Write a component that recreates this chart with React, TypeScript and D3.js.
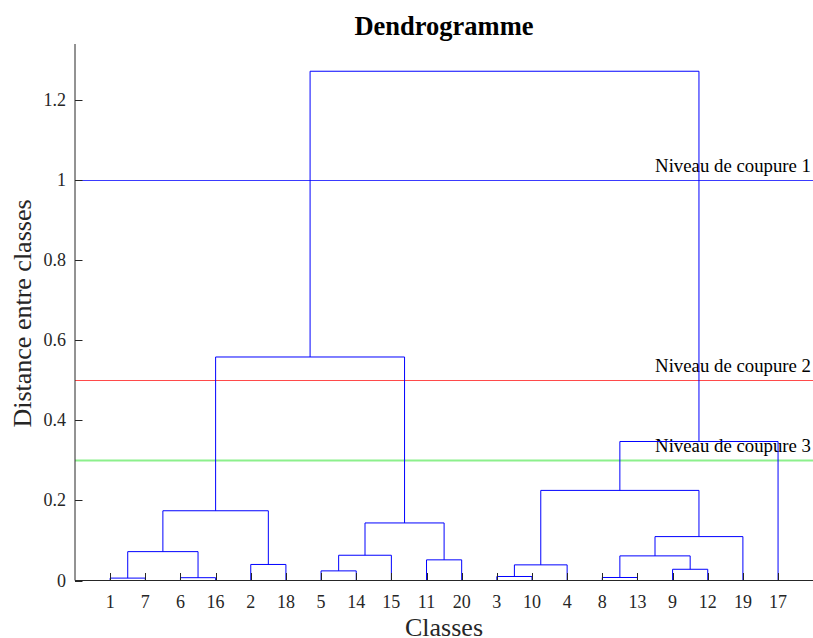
import React from "react";
import * as d3 from "d3";

// Leaf order along the x axis
const leafOrder = [1, 7, 6, 16, 2, 18, 5, 14, 15, 11, 20, 3, 10, 4, 8, 13, 9, 12, 19, 17];

// Linkage (MATLAB style): row i creates cluster 21 + i
const mergeLeft = [1, 6, 8, 3, 5, 9, 24, 2, 11, 23, 25, 21, 30, 31, 32, 27, 36, 35, 38];
const mergeRight = [7, 16, 13, 10, 14, 12, 4, 18, 20, 26, 15, 22, 19, 29, 28, 33, 17, 34, 37];
const mergeHeight = [0.006, 0.007, 0.0075, 0.01, 0.024, 0.028, 0.039, 0.04, 0.0515, 0.0614, 0.063, 0.072, 0.1095, 0.1436, 0.174, 0.2248, 0.3468, 0.5576, 1.2705];

// Cut levels
const cutValues = [1, 0.5, 0.3];
const cutLabels = ["Niveau de coupure 1", "Niveau de coupure 2", "Niveau de coupure 3"];

const yTicks = [0, 0.2, 0.4, 0.6, 0.8, 1, 1.2];
const yTickLabels = ["0", "0.2", "0.4", "0.6", "0.8", "1", "1.2"];

const title = "Dendrogramme";
const xLabel = "Classes";
const yLabel = "Distance entre classes";

const W = 813;
const H = 638;
const FONT = "'Liberation Serif', 'Times New Roman', serif";

export default function App() {
  const nLeaves = leafOrder.length;
  const x = d3.scaleLinear().domain([0, nLeaves + 1]).range([75, 813.2]);
  const y = d3.scaleLinear().domain([0, 1.2]).range([580.5, 99.5]);
  const yTop = 44;

  const pos: Record<number, number> = {};
  const hgt: Record<number, number> = {};
  leafOrder.forEach((leaf, i) => {
    pos[leaf] = i + 1;
    hgt[leaf] = 0;
  });
  const links: string[] = [];
  mergeLeft.forEach((l, i) => {
    const r = mergeRight[i];
    const h = mergeHeight[i];
    const id = nLeaves + 1 + i;
    const xl = x(pos[l]);
    const xr = x(pos[r]);
    const path = d3.path();
    path.moveTo(xl, y(hgt[l]));
    path.lineTo(xl, y(h));
    path.lineTo(xr, y(h));
    path.lineTo(xr, y(hgt[r]));
    links.push(path.toString());
    pos[id] = (pos[l] + pos[r]) / 2;
    hgt[id] = h;
  });

  const cutColors = ["#3a3aff", "#ff4a4a", "#8cf08c"];
  const cutWidths = [1, 1, 2];
  const tickLen = 7.5;
  const x0 = x(0);
  const y0 = y(0);

  return (
    <svg width={W} height={H} style={{ position: "absolute", left: 0, top: 0, background: "#fff" }}>
      <rect x={0} y={0} width={W} height={H} fill="#fff" />
      <text x={444} y={35} textAnchor="middle" fontFamily={FONT} fontWeight="bold" fontSize={26.5} fill="#000">
        {title}
      </text>

      {/* cut lines */}
      {cutValues.map((v, i) => (
        <g key={"cut" + i}>
          <line x1={x0} x2={W} y1={Math.round(y(v)) + 0.5} y2={Math.round(y(v)) + 0.5} stroke={cutColors[i]} strokeWidth={cutWidths[i]} />
          <text x={811} y={y(v) - 8} textAnchor="end" fontFamily={FONT} fontSize={18.8} fill="#000">
            {cutLabels[i]}
          </text>
        </g>
      ))}

      {/* dendrogram links */}
      {links.map((d, i) => (
        <path key={"l" + i} d={d} fill="none" stroke="#0000ff" strokeWidth={1} />
      ))}

      {/* axes */}
      <line x1={x0} x2={x0} y1={yTop} y2={y0} stroke="#262626" strokeWidth={1} />
      <line x1={x0} x2={W} y1={y0} y2={y0} stroke="#262626" strokeWidth={1} />
      {yTicks.map((t, i) => (
        <g key={"yt" + i}>
          <line x1={x0} x2={x0 + tickLen} y1={Math.round(y(t)) + 0.5} y2={Math.round(y(t)) + 0.5} stroke="#262626" strokeWidth={1} />
          <text x={66} y={y(t) + 6} textAnchor="end" fontFamily={FONT} fontSize={18} fill="#262626">
            {yTickLabels[i]}
          </text>
        </g>
      ))}
      {leafOrder.map((leaf, i) => (
        <g key={"xt" + i}>
          <line x1={Math.round(x(i + 1)) + 0.5} x2={Math.round(x(i + 1)) + 0.5} y1={y0} y2={y0 - tickLen} stroke="#262626" strokeWidth={1} />
          <text x={x(i + 1)} y={607.5} textAnchor="middle" fontFamily={FONT} fontSize={18} fill="#262626">
            {String(leaf)}
          </text>
        </g>
      ))}

      <text x={444} y={636} textAnchor="middle" fontFamily={FONT} fontSize={26} fill="#262626">
        {xLabel}
      </text>
      <text
        transform={`translate(30.5, 313.5) rotate(-90)`}
        textAnchor="middle"
        fontFamily={FONT}
        fontSize={26}
        fill="#262626"
      >
        {yLabel}
      </text>
    </svg>
  );
}
